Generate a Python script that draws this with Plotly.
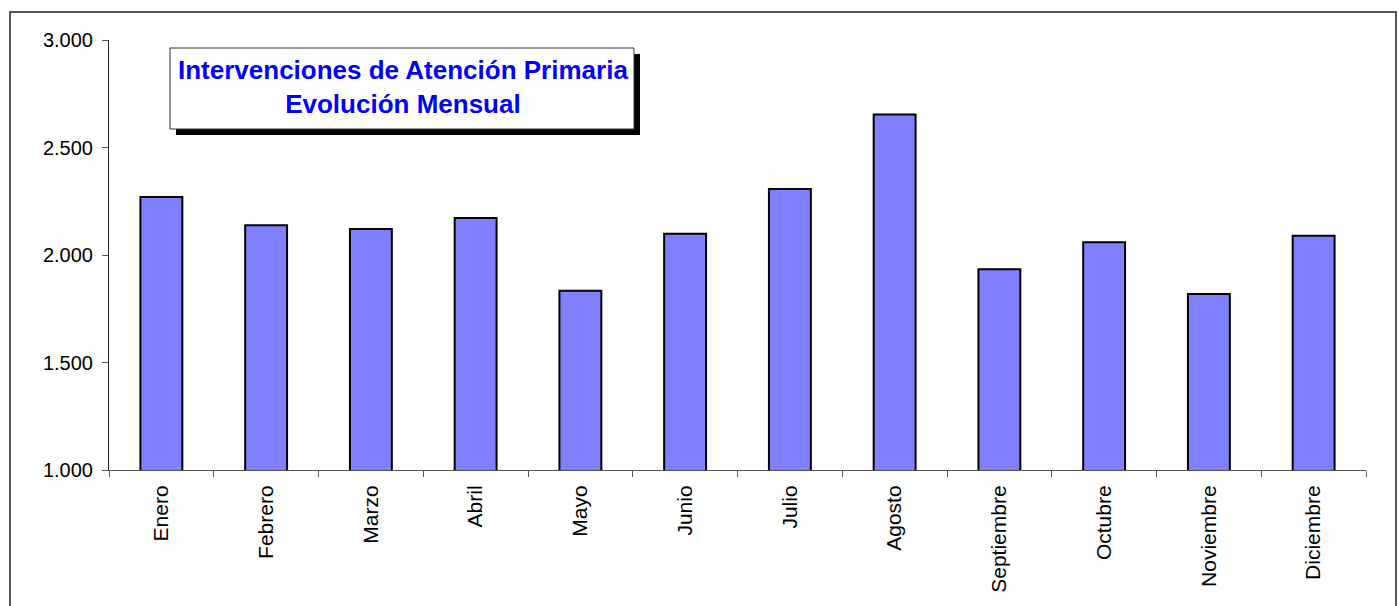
import plotly.graph_objects as go

meses = ["Enero", "Febrero", "Marzo", "Abril", "Mayo", "Junio", "Julio",
         "Agosto", "Septiembre", "Octubre", "Noviembre", "Diciembre"]
intervenciones = [2270, 2138, 2121, 2172, 1834, 2099, 2307, 2654, 1934, 2059, 1819, 2090]
y_ticks = [1000, 1500, 2000, 2500, 3000]
y_tick_labels = ["1.000", "1.500", "2.000", "2.500", "3.000"]
titulo = "Intervenciones de Atención Primaria<br>Evolución Mensual"

W, H = 1399, 606
L, R, T, B = 109, 1366, 40, 470  # plot area (px)
pw, ph = R - L, B - T

def px(x):
    return (x - L) / pw

def py(y):
    return (B - y) / ph

FONT = "Arial, Liberation Sans, sans-serif"

fig = go.Figure(go.Bar(
    x=meses, y=intervenciones, width=0.4,
    marker=dict(color="#8080FF", line=dict(color="black", width=2)),
))

shapes = [
    # outer chart border
    dict(type="rect", xref="paper", yref="paper",
         x0=px(10), x1=px(1396), y0=py(640), y1=py(12),
         line=dict(color="#222", width=1.5), fillcolor="rgba(0,0,0,0)", layer="below"),
    # title shadow
    dict(type="rect", xref="paper", yref="paper",
         x0=px(176), x1=px(640), y0=py(135), y1=py(54),
         line=dict(width=0), fillcolor="black", layer="above"),
    # title box
    dict(type="rect", xref="paper", yref="paper",
         x0=px(170), x1=px(634), y0=py(129), y1=py(48),
         line=dict(color="#333", width=1), fillcolor="white", layer="above"),
]

fig.update_layout(
    width=W, height=H,
    margin=dict(l=L, r=W - R, t=T, b=H - B, pad=0),
    paper_bgcolor="white", plot_bgcolor="white",
    showlegend=False,
    bargap=0.6,
    font=dict(family=FONT, color="black"),
    shapes=shapes,
    annotations=[dict(
        xref="paper", yref="paper", x=px(403), y=py(87),
        xanchor="center", yanchor="middle", showarrow=False,
        text="<b>" + titulo + "</b>",
        font=dict(family=FONT, size=26, color="#0000FF"),
        align="center",
    )],
    xaxis=dict(
        type="category", tickangle=-90, tickson="boundaries",
        ticks="outside", ticklen=6, tickcolor="#555",
        showline=True, linecolor="#555", linewidth=1,
        showgrid=False, zeroline=False,
        ticklabelstandoff=6,
        tickfont=dict(family=FONT, size=21, color="black"),
        range=[-0.5, len(meses) - 0.5],
    ),
    yaxis=dict(
        range=[1000, 3000], tickvals=y_ticks, ticktext=y_tick_labels,
        ticks="outside", ticklen=6, tickcolor="#555",
        showline=True, linecolor="#222", linewidth=1,
        showgrid=False, zeroline=False,
        ticklabelstandoff=5,
        tickfont=dict(family=FONT, size=20, color="black"),
    ),
)

fig.write_html(
    "out.html",
    config={"displayModeBar": False},
    post_script="document.body.style.margin='0';"
                "document.documentElement.style.overflow='hidden';",
)
